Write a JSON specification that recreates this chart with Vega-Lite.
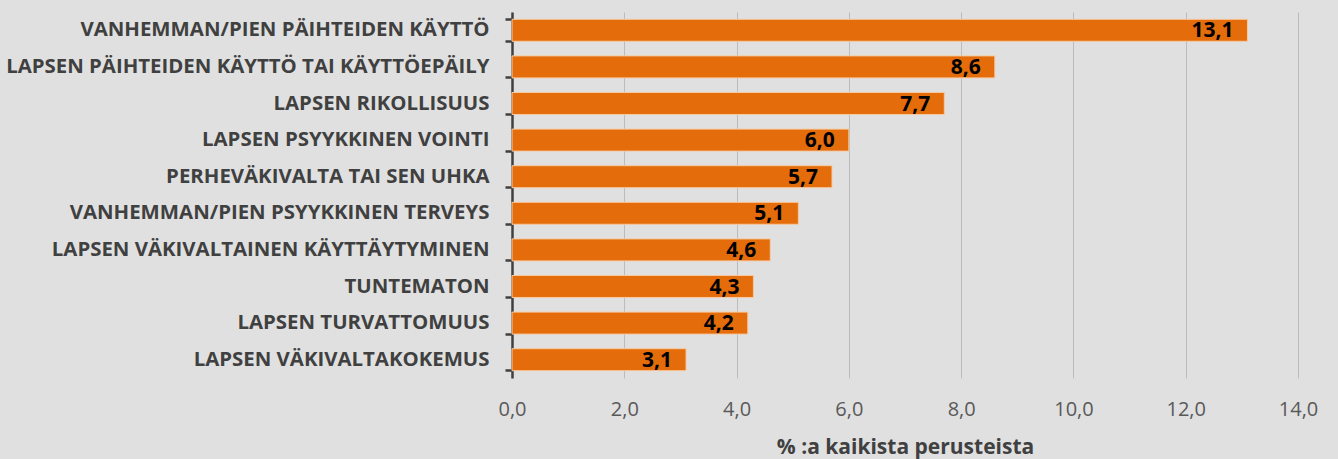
{
  "$schema": "https://vega.github.io/schema/vega-lite/v6.json",
  "width": 786,
  "height": 366,
  "autosize": {"type": "none"},
  "padding": {"left": 512, "top": 12, "right": 40, "bottom": 81},
  "background": "#e0e0e0",
  "config": {
    "view": {"stroke": null},
    "locale": {"number": {"decimal": ",", "thousands": " ", "grouping": [3], "currency": ["", " €"]}}
  },
  "data": {
    "values": [
      {"peruste": "VANHEMMAN/PIEN PÄIHTEIDEN KÄYTTÖ", "arvo": 13.1},
      {"peruste": "LAPSEN PÄIHTEIDEN KÄYTTÖ TAI KÄYTTÖEPÄILY", "arvo": 8.6},
      {"peruste": "LAPSEN RIKOLLISUUS", "arvo": 7.7},
      {"peruste": "LAPSEN PSYYKKINEN VOINTI", "arvo": 6.0},
      {"peruste": "PERHEVÄKIVALTA TAI SEN UHKA", "arvo": 5.7},
      {"peruste": "VANHEMMAN/PIEN PSYYKKINEN TERVEYS", "arvo": 5.1},
      {"peruste": "LAPSEN VÄKIVALTAINEN KÄYTTÄYTYMINEN", "arvo": 4.6},
      {"peruste": "TUNTEMATON", "arvo": 4.3},
      {"peruste": "LAPSEN TURVATTOMUUS", "arvo": 4.2},
      {"peruste": "LAPSEN VÄKIVALTAKOKEMUS", "arvo": 3.1}
    ]
  },
  "encoding": {
    "y": {
      "field": "peruste",
      "type": "nominal",
      "sort": null,
      "scale": {"paddingInner": 0.4, "paddingOuter": 0.2},
      "axis": {
        "title": null,
        "bandPosition": 1,
        "tickExtra": true,
        "domainColor": "#404040",
        "domainWidth": 2.5,
        "tickColor": "#404040",
        "tickWidth": 2.5,
        "tickSize": 7,
        "labelPadding": 16,
        "labelFont": "Open Sans",
        "labelFontWeight": "bold",
        "labelFontSize": 20.4,
        "labelColor": "#404040",
        "labelLimit": 600,
        "grid": false
      }
    },
    "x": {
      "field": "arvo",
      "type": "quantitative",
      "scale": {"domain": [0, 14], "nice": false},
      "axis": {
        "title": "% :a kaikista perusteista",
        "titleFont": "Open Sans",
        "titleFontSize": 21,
        "titleFontWeight": "bold",
        "titleColor": "#404040",
        "titlePadding": 17,
        "values": [0, 2, 4, 6, 8, 10, 12, 14],
        "format": ".1f",
        "labelFont": "Open Sans",
        "labelFontSize": 20,
        "labelColor": "#595959",
        "labelPadding": 21,
        "labelFlush": false,
        "ticks": false,
        "domain": false,
        "grid": true,
        "gridColor": "#bcbcbc",
        "gridWidth": 1
      }
    }
  },
  "layer": [
    {
      "mark": {"type": "bar", "color": "#E46C0A", "stroke": "#f7c9a1", "strokeWidth": 1}
    },
    {
      "mark": {"type": "text", "align": "right", "baseline": "middle", "dx": -14, "dy": 1, "font": "Open Sans", "fontWeight": "bold", "fontSize": 21, "color": "#000000"},
      "encoding": {"text": {"field": "arvo", "type": "quantitative", "format": ".1f"}}
    }
  ]
}
